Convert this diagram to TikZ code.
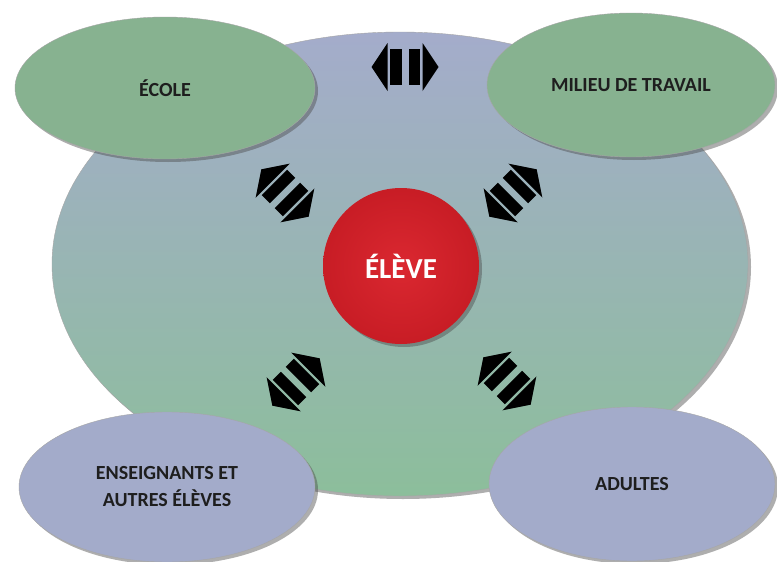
\documentclass[tikz,border=0pt]{standalone}
\usepackage{fontspec}
\setmainfont{Carlito}
\usetikzlibrary{shapes.geometric,shadows}

\definecolor{fondbleu}{HTML}{A4ACCB}
\definecolor{fondvert}{HTML}{8CBE9B}
\definecolor{ovalvert}{HTML}{87B290}
\definecolor{ovalbleu}{HTML}{A3ABCA}
\definecolor{rouge}{HTML}{D91F28}
\definecolor{texte}{HTML}{1E1E1E}

\tikzset{
  ombre/.style={drop shadow={shadow xshift=3pt,shadow yshift=-3pt,opacity=0.45,fill=black!70}},
  oval/.style={ellipse,inner sep=0pt,ombre,draw=black!35,line width=0.4pt,
    font=\bfseries\fontsize{20}{27}\selectfont,text=texte,align=center},
  dblfleche/.pic={
    \fill[black] (-33.5,0) -- (-17.5,-24) -- (-17.5,24) -- cycle;
    \fill[black] (-15,-18) rectangle (-3.5,18);
    \fill[black] (3.5,-18) rectangle (15,18);
    \fill[black] (33.5,0) -- (17.5,-24) -- (17.5,24) -- cycle;
  }
}

\begin{document}
\begin{tikzpicture}[x=1pt,y=-1pt]
\useasboundingbox[fill=white] (0,0) rectangle (777,562);

\node[ellipse,minimum width=696pt,minimum height=464pt,ombre,draw=black!35,
  top color=fondbleu,bottom color=fondvert] (cadre) at (400,264) {};

\node[circle,minimum size=156pt,inner sep=0pt,ombre,
  inner color=rouge!96!white,outer color=rouge!92!black,
  font=\bfseries\fontsize{29}{32}\selectfont,text=white] (eleve) at (401,266) {ÉLÈVE};

\node[oval,minimum width=300pt,minimum height=142pt,fill=ovalvert] (ecole) at (165,88) {ÉCOLE};
\node[oval,minimum width=288pt,minimum height=144pt,fill=ovalvert] (travail) at (631,85) {MILIEU DE TRAVAIL};
\node[oval,minimum width=296pt,minimum height=150pt,fill=ovalbleu] (enseignants) at (167,487) {ENSEIGNANTS ET\\AUTRES ÉLÈVES};
\node[oval,minimum width=286pt,minimum height=154pt,fill=ovalbleu] (adultes) at (632,484) {ADULTES};

\pic at (405,67) {dblfleche};
\foreach \px/\py/\ang in {285/193/-45,513/193/45,296/382/45,507/381/-45}
  \pic[rotate=\ang] at (\px,\py) {dblfleche};

\end{tikzpicture}
\end{document}
